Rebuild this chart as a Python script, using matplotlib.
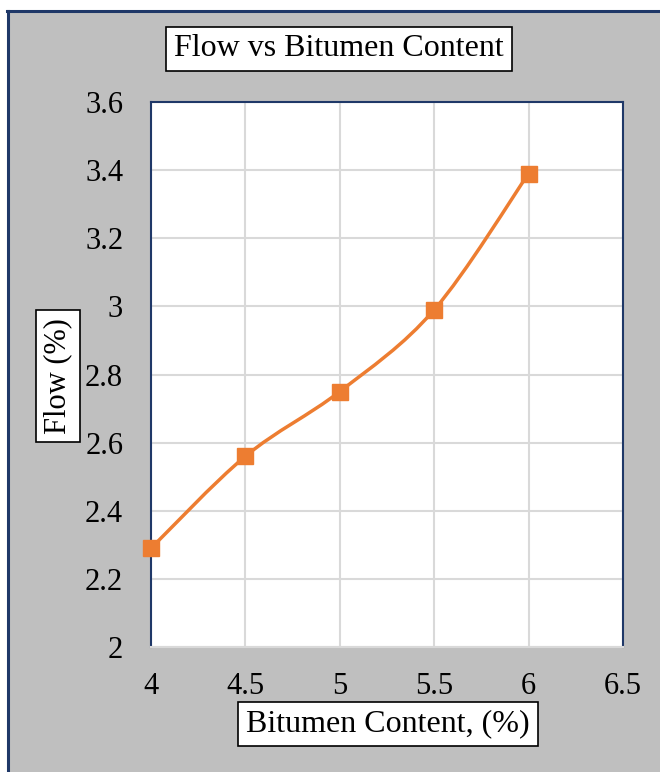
import numpy as np
import matplotlib.pyplot as plt
from matplotlib.path import Path
from matplotlib.patches import PathPatch, Rectangle
from matplotlib.lines import Line2D

# marshall test results
bitumen = [4.0, 4.5, 5.0, 5.5, 6.0]
flow = [2.29, 2.56, 2.75, 2.99, 3.39]

x_ticks = [4, 4.5, 5, 5.5, 6, 6.5]
y_ticks = [2, 2.2, 2.4, 2.6, 2.8, 3, 3.2, 3.4, 3.6]

plt.rcParams['font.family'] = ['Liberation Serif', 'DejaVu Serif']

W, H = 660, 772
fig = plt.figure(figsize=(W / 100, H / 100), dpi=100)
fig.patch.set_facecolor('white')

# grey chart area with navy frame (top and left edges visible)
fig.add_artist(Rectangle((8 / W, 0), 1, 1 - 11 / H, transform=fig.transFigure,
                         facecolor='#BFBFBF', edgecolor='none', zorder=-5))
fig.add_artist(Line2D([7 / W, 1], [1 - 11 / H, 1 - 11 / H], transform=fig.transFigure,
                      color='#1F3868', lw=2.2))
fig.add_artist(Line2D([8 / W, 8 / W], [0, 1 - 11 / H], transform=fig.transFigure,
                      color='#1F3868', lw=2.2))

ax = fig.add_axes([151 / W, 125 / H, 472 / W, 545 / H])
ax.set_facecolor('white')
ax.set_xlim(4, 6.5)
ax.set_ylim(2, 3.6)
ax.set_xticks(x_ticks)
ax.set_yticks(y_ticks)
ax.set_xticklabels(['%g' % t for t in x_ticks])
ax.set_yticklabels(['%g' % t for t in y_ticks])
ax.tick_params(length=0, labelsize=22)
ax.tick_params(axis='x', pad=18)
ax.tick_params(axis='y', pad=20)
ax.grid(True, color='#D9D9D9', lw=1.5)
ax.set_axisbelow(True)
for side in ['left', 'right', 'top']:
    ax.spines[side].set_color('#1F3868')
    ax.spines[side].set_linewidth(1.5)
ax.spines['bottom'].set_color('#D9D9D9')
ax.spines['bottom'].set_linewidth(1.5)

# smoothed line through the points (cardinal spline as bezier segments)
pts = np.column_stack([bitumen, flow])
verts = [pts[0]]
codes = [Path.MOVETO]
n = len(pts)
for i in range(n - 1):
    p0 = pts[max(i - 1, 0)]
    p1 = pts[i]
    p2 = pts[i + 1]
    p3 = pts[min(i + 2, n - 1)]
    c1 = p1 + (p2 - p0) / 6
    c2 = p2 - (p3 - p1) / 6
    verts += [c1, c2, p2]
    codes += [Path.CURVE4] * 3
ax.add_patch(PathPatch(Path(verts, codes), facecolor='none', edgecolor='#ED7D31',
                       lw=2.5, capstyle='round', zorder=3))
ax.plot(bitumen, flow, ls='none', marker='s', ms=11.5, color='#ED7D31', zorder=4, clip_on=False)

box = dict(boxstyle='square,pad=0.25', facecolor='white', edgecolor='black', lw=1.2)
fig.text(339 / W, 1 - 49 / H, 'Flow vs Bitumen Content', fontsize=23,
         ha='center', va='center', bbox=box)
fig.text(388 / W, 1 - 724 / H, 'Bitumen Content, (%)', fontsize=23,
         ha='center', va='center', bbox=box)
fig.text(58 / W, 1 - 376 / H, 'Flow (%)', fontsize=22, rotation=90,
         ha='center', va='center', bbox=box)

fig.savefig('out.png', dpi=100)
